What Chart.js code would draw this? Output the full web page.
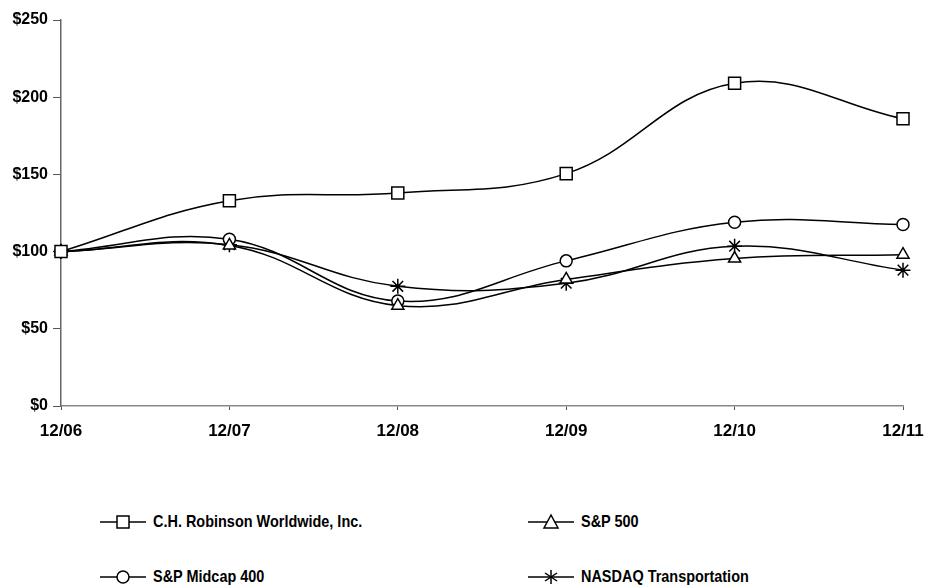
<!DOCTYPE html>
<html>
<head>
<meta charset="utf-8">
<script src="https://cdn.jsdelivr.net/npm/chart.js@4/dist/chart.umd.min.js"></script>
<style>
  html, body { margin:0; padding:0; background:#fff; width:926px; height:587px; overflow:hidden; }
  #wrap { position:relative; width:926px; height:587px; }
  canvas#c { position:absolute; left:0; top:0; }
  .leg { position:absolute; font-family:"Liberation Sans", Arial, sans-serif; font-weight:bold; font-size:17px; color:#000; display:flex; align-items:center; white-space:nowrap; }
  .leg svg { margin-right:5px; }
  .leg span { display:inline-block; transform:scaleX(0.85); transform-origin:left center; }
</style>
</head>
<body>
<div id="wrap">
  <canvas id="c" width="926" height="450"></canvas>
  <div class="leg" style="left:98px; top:511px;"><svg width="50" height="22"><line x1="2" y1="11" x2="48" y2="11" stroke="#000" stroke-width="1.5"/><rect x="19" y="5" width="12" height="12" fill="#fff" stroke="#000" stroke-width="1.5"/></svg><span>C.H. Robinson Worldwide, Inc.</span></div>
  <div class="leg" style="left:526px; top:511px;"><svg width="50" height="22"><line x1="2" y1="11" x2="48" y2="11" stroke="#000" stroke-width="1.5"/><polygon points="25,4 32,17 18,17" fill="#fff" stroke="#000" stroke-width="1.5"/></svg><span>S&amp;P 500</span></div>
  <div class="leg" style="left:98px; top:566px;"><svg width="50" height="22"><line x1="2" y1="11" x2="48" y2="11" stroke="#000" stroke-width="1.5"/><circle cx="25" cy="11" r="6" fill="#fff" stroke="#000" stroke-width="1.5"/></svg><span>S&amp;P Midcap 400</span></div>
  <div class="leg" style="left:526px; top:566px;"><svg width="50" height="22"><line x1="2" y1="11" x2="48" y2="11" stroke="#000" stroke-width="1.5"/><g stroke="#000" stroke-width="1.5"><line x1="25" y1="4" x2="25" y2="18"/><line x1="19" y1="7" x2="31" y2="15"/><line x1="31" y1="7" x2="19" y2="15"/></g></svg><span>NASDAQ Transportation</span></div>
</div>
<script>
const categories = ["12/06", "12/07", "12/08", "12/09", "12/10", "12/11"];
const chrobinson = [100, 133, 138, 150.5, 209, 186];
const sp500 = [100, 104, 65, 82, 95.5, 98];
const midcap400 = [100, 108, 68, 94, 119, 117.5];
const nasdaqTransport = [100, 104.5, 77.5, 79.5, 103.5, 88];
const yTicks = [0, 50, 100, 150, 200, 250];

function ds(label, data, style, r) {
  return {
    label, data,
    borderColor: '#000', borderWidth: 1.5,
    pointStyle: style, pointRadius: r, pointHoverRadius: r,
    pointBorderColor: '#000', pointBackgroundColor: '#fff', pointBorderWidth: 1.5,
    tension: 0.4, fill: false
  };
}

new Chart(document.getElementById('c'), {
  type: 'line',
  data: {
    labels: categories,
    datasets: [
      ds('C.H. Robinson Worldwide, Inc.', chrobinson, 'rect', 8.5),
      ds('S&P 500', sp500, 'triangle', 7),
      ds('S&P Midcap 400', midcap400, 'circle', 6),
      ds('NASDAQ Transportation', nasdaqTransport, 'star', 7.5)
    ]
  },
  options: {
    responsive: false,
    animation: false,
    layout: { padding: { left: 0, right: 23, top: 20, bottom: 0 } },
    plugins: { legend: { display: false }, tooltip: { enabled: false } },
    scales: {
      x: {
        offset: false,
        border: { display: true, color: '#888', width: 1.5 },
        grid: { display: true, drawOnChartArea: false, drawTicks: true, tickLength: 4, color: '#555' },
        ticks: { color: '#000', padding: 11, maxRotation: 0, autoSkip: false,
                 font: { family: '"Liberation Sans", Arial, sans-serif', weight: 'bold', size: 17 } },
        afterFit: s => { s.height = 44; s.paddingLeft = 0; s.paddingRight = 0; }
      },
      y: {
        min: 0, max: 250,
        border: { display: true, color: '#666', width: 1.5 },
        grid: { display: true, drawOnChartArea: false, drawTicks: true, tickLength: 8, color: '#555' },
        afterBuildTicks: s => { s.ticks = yTicks.map(v => ({ value: v })); },
        ticks: { color: '#000', padding: 5,
                 callback: v => '$' + v,
                 font: { family: '"Liberation Sans", Arial, sans-serif', weight: 'bold', size: 16 } },
        afterFit: s => { s.width = 61; s.paddingTop = 0; s.paddingBottom = 0; }
      }
    }
  }
});
</script>
</body>
</html>
